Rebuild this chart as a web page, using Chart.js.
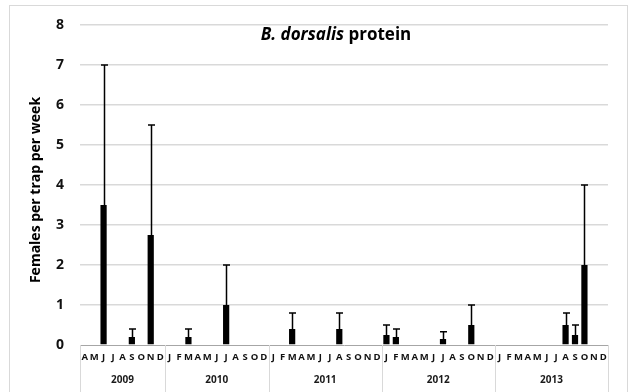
<!DOCTYPE html>
<html>
<head>
<meta charset="utf-8">
<script src="https://cdn.jsdelivr.net/npm/chart.js@4"></script>
<style>
  html, body { margin: 0; padding: 0; background: #fff; }
  #wrap { width: 632px; height: 392px; }
</style>
</head>
<body>
<div id="wrap"><canvas id="chart" width="632" height="392"></canvas></div>
<script>
// monthly trap catches, Apr 2009 – Dec 2013 (no Nov in 2010)
const years = ["2009", "2010", "2011", "2012", "2013"];
const yearMonths = [
  ["A", "M", "J", "J", "A", "S", "O", "N", "D"],
  ["J", "F", "M", "A", "M", "J", "J", "A", "S", "O", "D"],
  ["J", "F", "M", "A", "M", "J", "J", "A", "S", "O", "N", "D"],
  ["J", "F", "M", "A", "M", "J", "J", "A", "S", "O", "N", "D"],
  ["J", "F", "M", "A", "M", "J", "J", "A", "S", "O", "N", "D"],
];
const means = [
  0, 0, 3.5, 0, 0, 0.2, 0, 2.75, 0,
  0, 0, 0.2, 0, 0, 0, 1, 0, 0, 0, 0,
  0, 0, 0.4, 0, 0, 0, 0, 0.4, 0, 0, 0, 0,
  0.25, 0.2, 0, 0, 0, 0, 0.15, 0, 0, 0.5, 0, 0,
  0, 0, 0, 0, 0, 0, 0, 0.5, 0.25, 2, 0, 0,
];
const errors = [
  0, 0, 3.5, 0, 0, 0.2, 0, 2.75, 0,
  0, 0, 0.2, 0, 0, 0, 1, 0, 0, 0, 0,
  0, 0, 0.4, 0, 0, 0, 0, 0.4, 0, 0, 0, 0,
  0.25, 0.2, 0, 0, 0, 0, 0.18, 0, 0, 0.5, 0, 0,
  0, 0, 0, 0, 0, 0, 0, 0.3, 0.25, 2, 0, 0,
];
const yTicks = [0, 1, 2, 3, 4, 5, 6, 7, 8];

const monthLabels = yearMonths.flat();
const FONT = "'Open Sans', Lato, sans-serif";

const errorBars = {
  id: "errorBars",
  afterDatasetsDraw(chart) {
    const { ctx } = chart;
    const y = chart.scales.y;
    const meta = chart.getDatasetMeta(0);
    ctx.save();
    ctx.strokeStyle = "#000";
    ctx.lineWidth = 1.5;
    meta.data.forEach((bar, i) => {
      const e = errors[i];
      if (!e) return;
      const x = Math.round(bar.x) + 0.5;
      const top = y.getPixelForValue(means[i] + e);
      ctx.beginPath();
      ctx.moveTo(x, bar.y);
      ctx.lineTo(x, top);
      ctx.moveTo(x - 3.5, top);
      ctx.lineTo(x + 3.5, top);
      ctx.stroke();
    });
    ctx.restore();
  },
};

const decorations = {
  id: "decorations",
  beforeDraw(chart) {
    const { ctx, width, height } = chart;
    ctx.save();
    ctx.fillStyle = "#fff";
    ctx.fillRect(0, 0, width, height);
    ctx.strokeStyle = "#d9d9d9";
    ctx.lineWidth = 1;
    ctx.strokeRect(9.5, 5.5, 618, height + 10);
    ctx.restore();
  },
  afterDraw(chart) {
    const { ctx, chartArea } = chart;
    const x = chart.scales.x;
    const half = (x.getPixelForValue(1) - x.getPixelForValue(0)) / 2;
    ctx.save();

    // year groups under the month row
    ctx.strokeStyle = "#d9d9d9";
    ctx.lineWidth = 1;
    ctx.fillStyle = "#1a1a1a";
    ctx.font = "bold 10px " + FONT;
    ctx.textAlign = "center";
    ctx.textBaseline = "middle";
    let start = 0;
    years.forEach((yr, g) => {
      const n = yearMonths[g].length;
      const left = x.getPixelForValue(start) - half;
      const right = x.getPixelForValue(start + n - 1) + half;
      ctx.beginPath();
      ctx.moveTo(Math.round(left) + 0.5, chartArea.bottom);
      ctx.lineTo(Math.round(left) + 0.5, chart.height);
      if (g === years.length - 1) {
        ctx.moveTo(Math.round(right) + 0.5, chartArea.bottom);
        ctx.lineTo(Math.round(right) + 0.5, chart.height);
      }
      ctx.stroke();
      ctx.fillText(yr, (left + right) / 2, 380);
      start += n;
    });

    // title
    ctx.textAlign = "left";
    ctx.textBaseline = "middle";
    ctx.fillStyle = "#000";
    ctx.font = "italic bold 17px " + FONT;
    const italicPart = "B. dorsalis";
    const w1 = ctx.measureText(italicPart + " ").width;
    ctx.font = "bold 17px " + FONT;
    const w2 = ctx.measureText("protein").width;
    const tx = 336 - (w1 + w2) / 2;
    ctx.font = "italic bold 17px " + FONT;
    ctx.fillText(italicPart, tx, 35);
    ctx.font = "bold 17px " + FONT;
    ctx.fillText("protein", tx + w1, 35);

    // y axis title
    ctx.translate(36, (chartArea.top + chartArea.bottom) / 2 + 5);
    ctx.rotate(-Math.PI / 2);
    ctx.textAlign = "center";
    ctx.font = "bold 14px " + FONT;
    ctx.fillText("Females per trap per week", 0, 0);
    ctx.restore();
  },
};

new Chart(document.getElementById("chart"), {
  type: "bar",
  data: {
    labels: monthLabels,
    datasets: [
      {
        data: means,
        backgroundColor: "#000",
        borderWidth: 0,
        barPercentage: 0.66,
        categoryPercentage: 1,
      },
    ],
  },
  options: {
    responsive: false,
    devicePixelRatio: 1,
    animation: false,
    layout: { padding: { top: 25, right: 24, bottom: 0, left: 0 } },
    plugins: {
      legend: { display: false },
      tooltip: { enabled: false },
    },
    scales: {
      x: {
        afterFit(scale) { scale.height = 47; },
        grid: { display: false, drawTicks: false },
        border: { display: true, color: "#a6a6a6", width: 1, dash: [4, 3] },
        ticks: {
          autoSkip: false,
          maxRotation: 0,
          minRotation: 0,
          padding: 7,
          color: "#111",
          font: { family: FONT, size: 9.5, weight: "bold" },
        },
      },
      y: {
        min: 0,
        max: 8,
        afterFit(scale) { scale.width = 80; },
        afterBuildTicks(scale) { scale.ticks = yTicks.map((v) => ({ value: v })); },
        grid: {
          drawTicks: false,
          lineWidth: 1.5,
          color: (c) => (c.tick && c.tick.value === 0 ? "rgba(0,0,0,0)" : "#d9d9d9"),
        },
        border: { display: false },
        ticks: {
          padding: 16,
          color: "#111",
          font: { family: FONT, size: 14, weight: "bold" },
        },
      },
    },
  },
  plugins: [decorations, errorBars],
});
</script>
</body>
</html>
